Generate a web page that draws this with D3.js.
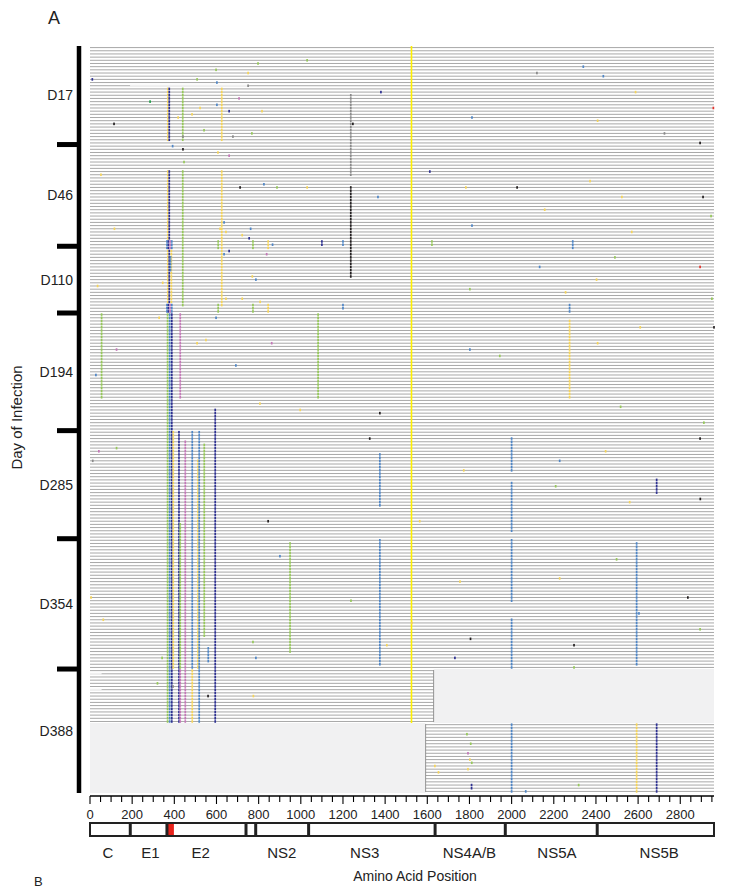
<!DOCTYPE html>
<html><head><meta charset="utf-8">
<script src="https://cdn.jsdelivr.net/npm/d3@7"></script>
<style>body{margin:0;background:#fff;} svg{display:block;font-family:Arial,"Liberation Sans",Helvetica,sans-serif;}</style>
</head><body><svg id="chart" width="736" height="892"></svg>
<script>
// ---------------- data ----------------
const groups = ["D17","D46","D110","D194","D285","D354","D388"];
const groupSizes = [31,32,21,37,34,41,39];
const tickLabels = [0,200,400,600,800,1000,1200,1400,1600,1800,2000,2200,2400,2600,2800];
const minorTickStep = 50;
const geneNames = ["C","E1","E2","p7","NS2","NS3","NS4A/B","NS5A","NS5B"];
const geneBounds = [0,191,365,740,786,1037,1637,1970,2406,2960];
const geneLabelPos = [85,287,525,null,910,1303,1800,2215,2700];
const hvr1 = [370,398];
// consensus-wide substitution present in early sequences
const fixedSite = [1525, 0, 212];
// missing data blocks: [from aa, to aa, first row, last row]
const missing = [[1630,2960,196,212],[0,1592,213,234]];
// row gaps (no sequence): [row, from aa, to aa]
const rowGaps = [[12,190,748],[197,0,55],[202,0,55]];
// runs of the same substitution in consecutive sequences: [aa, first row, last row, class]
const runs = [
 [369,13,29,"y"],[376,13,29,"n"],[440,13,29,"g"],[625,13,29,"y"],
 [1237,15,40,"a"],
 [369,39,60,"y"],[376,39,60,"n"],[440,39,81,"g"],[625,39,81,"y"],
 [1237,44,72,"k"],
 [365,61,63,"b"],[372,61,63,"n"],[380,61,63,"p"],[388,61,63,"b"],
 [608,61,63,"g"],[773,61,63,"g"],[845,61,63,"y"],
 [1100,61,62,"n"],[1200,61,62,"b"],[1622,61,62,"g"],[2290,61,63,"b"],
 [369,64,80,"y"],[376,64,80,"n"],[386,64,80,"y"],[382,66,70,"b"],
 [365,81,83,"b"],[372,81,83,"n"],[380,81,83,"p"],[388,81,83,"b"],
 [608,81,83,"g"],[773,81,83,"g"],[845,81,83,"y"],[1200,81,82,"b"],[2275,81,83,"b"],
 [55,84,110,"g"],
 [368,84,212,"g"],[378,84,212,"b"],[388,84,212,"n"],[395,121,195,"y"],
 [428,84,110,"p"],[1082,84,110,"g"],[2275,86,110,"y"],
 [422,121,212,"n"],[428,150,195,"g"],[428,196,212,"p"],[452,124,212,"p"],
 [485,121,195,"b"],[485,196,212,"y"],[512,130,195,"y"],[518,121,212,"b"],
 [542,125,185,"g"],[561,189,193,"b"],[594,114,212,"n"],
 [1375,128,144,"b"],[1375,155,194,"b"],
 [2000,123,133,"b"],[2000,137,152,"b"],[2000,155,174,"b"],[2000,180,195,"b"],[2000,213,234,"b"],
 [949,156,190,"g"],[2593,156,194,"b"],[2593,213,234,"y"],[2688,136,140,"n"],[2688,213,234,"n"]
];
// isolated substitutions: [row, aa, class]
const singles = [
 [10,11,"n"],[7,598,"g"],[10,508,"g"],[11,602,"b"],[17,285,"d"],[24,114,"k"],[20,660,"n"],[16,707,"p"],
 [31,392,"b"],[5,797,"g"],[8,750,"y"],[12,750,"a"],[19,522,"y"],[18,602,"b"],[20,816,"y"],[22,418,"y"],
 [21,484,"y"],[26,541,"g"],[27,768,"g"],[28,441,"a"],[28,678,"a"],[32,441,"k"],[33,607,"y"],[34,660,"p"],
 [36,446,"g"],[44,712,"k"],[43,825,"b"],[44,887,"g"],[40,52,"y"],[57,116,"y"],[75,36,"y"],[95,126,"p"],
 [103,28,"b"],[127,42,"p"],[126,126,"g"],[130,13,"a"],[173,5,"y"],[180,63,"y"],
 [55,636,"b"],[57,617,"y"],[58,645,"y"],[59,722,"y"],[57,762,"b"],[60,755,"n"],[62,866,"b"],[64,660,"n"],
 [65,636,"b"],[65,838,"p"],[72,770,"y"],[73,787,"b"],[74,345,"y"],[79,645,"y"],[79,722,"y"],[80,807,"y"],
 [85,328,"y"],[85,598,"b"],[93,508,"y"],[92,550,"y"],[93,862,"p"],
 [187,773,"g"],[192,342,"g"],[192,787,"b"],[200,320,"g"],[201,394,"a"],[204,560,"k"],[204,775,"y"],
 [188,1408,"y"],[192,1731,"n"],[188,2296,"k"],[195,2296,"g"],[186,1805,"k"],
 [216,1788,"g"],[219,1806,"g"],[222,1793,"p"],[224,1802,"y"],[225,1811,"g"],[226,1636,"y"],[227,1793,"y"],[228,1653,"y"],
 [232,1810,"n"],[233,1810,"n"],[234,2067,"b"],[232,2318,"g"],
 [4,1030,"g"],[6,2340,"b"],[9,2435,"b"],[19,2957,"r"],[22,1812,"b"],[30,2894,"k"],[24,1247,"k"],[14,1380,"n"],
 [8,2120,"a"],[14,2588,"y"],[23,2408,"y"],[27,2725,"a"],
 [44,1030,"y"],[47,1366,"b"],[44,1783,"y"],[44,2026,"k"],[42,2372,"y"],[47,2523,"y"],[47,2908,"k"],[53,2946,"g"],
 [51,2157,"y"],[56,1812,"b"],[39,1612,"n"],[58,2570,"y"],
 [69,2894,"r"],[79,2950,"g"],[77,2256,"y"],[73,2403,"y"],[69,2133,"b"],[76,1802,"g"],[66,2490,"g"],
 [88,2960,"k"],[88,2610,"y"],[97,1944,"g"],[93,2408,"y"],[95,1802,"b"],[115,1375,"k"],[113,2517,"g"],
 [118,2912,"g"],[114,997,"y"],[112,806,"y"],[100,692,"b"],
 [123,1327,"k"],[123,2894,"k"],[127,2446,"y"],[130,2228,"b"],[133,1773,"y"],[149,845,"k"],[149,1564,"y"],
 [143,2560,"y"],[142,2895,"k"],[138,2209,"g"],
 [160,901,"b"],[168,1755,"y"],[161,2498,"g"],[173,2836,"k"],[178,2604,"b"],[167,2228,"y"],[183,2894,"g"],
 [174,1238,"g"],[181,1527,"y"]
];
const classColors = {y:"#f5d45a", n:"#2e3192", g:"#96c85a", b:"#4f86c6", p:"#c478b8", k:"#231f20", d:"#1f9e48", a:"#8a8a8a", r:"#e4332d"};

// ---------------- chart ----------------
const svg = d3.select("#chart");
const nRows = d3.sum(groupSizes);
const x = d3.scaleLinear().domain([0, 2960]).range([90, 714]);
const y = d3.scaleLinear().domain([0, nRows]).range([46, 793]);
const pitch = y(1) - y(0);
const rowY = r => y(r + 0.5);

// row lines
const rows = d3.range(nRows).map(r => {
  const m = missing.find(mm => r >= mm[2] && r <= mm[3]);
  let a0 = 0, a1 = 2960;
  if (m) { if (m[0] === 0) a0 = m[1]; else a1 = m[0]; }
  return {r, a0, a1};
});
svg.append("g").selectAll("line").data(rows).join("line")
  .attr("x1", d => x(d.a0)).attr("x2", d => x(d.a1))
  .attr("y1", d => rowY(d.r)).attr("y2", d => rowY(d.r))
  .attr("stroke", "#a8a8a8").attr("stroke-width", 1);

// gaps
svg.append("g").selectAll("rect").data(rowGaps).join("rect")
  .attr("x", d => x(d[1])).attr("width", d => x(d[2]) - x(d[1]))
  .attr("y", d => rowY(d[0]) - 1).attr("height", 2).attr("fill", "#f0f0f0");

// missing blocks
svg.append("g").selectAll("rect").data(missing).join("rect")
  .attr("x", d => x(d[0])).attr("width", d => x(d[1]) - x(d[0]))
  .attr("y", d => y(d[2])).attr("height", d => y(d[3] + 1) - y(d[2]))
  .attr("fill", "#f1f1f2");
svg.append("g").selectAll("line").data(missing).join("line")
  .attr("x1", d => x(d[0] === 0 ? d[1] : d[0])).attr("x2", d => x(d[0] === 0 ? d[1] : d[0]))
  .attr("y1", d => y(d[2]) + 1).attr("y2", d => y(d[3] + 1) - 1)
  .attr("stroke", "#7a7a7a").attr("stroke-width", 0.8);

// fixed site line
svg.append("line")
  .attr("x1", x(fixedSite[0])).attr("x2", x(fixedSite[0]))
  .attr("y1", y(fixedSite[1])).attr("y2", y(fixedSite[2] + 1))
  .attr("stroke", "#fff000").attr("stroke-width", 1.6);

// marks
const marks = [];
runs.forEach(([a, r0, r1, c]) => { for (let r = r0; r <= r1; r++) marks.push({r, a, c}); });
singles.forEach(([r, a, c]) => marks.push({r, a, c}));
svg.append("g").selectAll("rect").data(marks).join("rect")
  .attr("x", d => x(d.a) - 0.85).attr("width", 1.7)
  .attr("y", d => y(d.r) + 0.3).attr("height", pitch - 0.6)
  .attr("fill", d => classColors[d.c]);

// group bar
const bounds = [0, ...d3.cumsum(groupSizes)];
svg.append("line").attr("x1", 79).attr("x2", 79).attr("y1", y(0)).attr("y2", y(nRows))
  .attr("stroke", "#000").attr("stroke-width", 4.5);
svg.append("g").selectAll("line").data(bounds.slice(1, -1)).join("line")
  .attr("x1", 57).attr("x2", 81).attr("y1", d => y(d)).attr("y2", d => y(d))
  .attr("stroke", "#000").attr("stroke-width", 5);
svg.append("g").selectAll("text").data(groups).join("text")
  .attr("x", 73).attr("y", (d, i) => y((bounds[i] + bounds[i + 1]) / 2))
  .attr("dy", "0.35em").attr("text-anchor", "end")
  .attr("font-size", 14).attr("fill", "#222").text(d => d);
svg.append("text").attr("transform", `translate(22,${y(nRows / 2) - 2}) rotate(-90)`)
  .attr("text-anchor", "middle").attr("font-size", 15).attr("fill", "#222").text("Day of Infection");

// x axis
const axY = 796;
svg.append("line").attr("x1", x(0)).attr("x2", x(2960)).attr("y1", axY).attr("y2", axY)
  .attr("stroke", "#000").attr("stroke-width", 1.6);
const minor = d3.range(0, 2960, minorTickStep);
svg.append("g").selectAll("line").data(minor).join("line")
  .attr("x1", d => x(d)).attr("x2", d => x(d)).attr("y1", axY)
  .attr("y2", d => axY + (d % 200 === 0 ? 8 : 6))
  .attr("stroke", "#000").attr("stroke-width", 1.1);
svg.append("g").selectAll("text").data(tickLabels).join("text")
  .attr("x", d => x(d)).attr("y", 819).attr("text-anchor", "middle")
  .attr("font-size", 13).attr("fill", "#222").text(d => d);

// genome map
const genes = geneNames.map((n, i) => ({n, a0: geneBounds[i], a1: geneBounds[i + 1], lp: geneLabelPos[i]}));
const gy0 = 823, gy1 = 836;
svg.append("rect").attr("x", x(0)).attr("y", gy0).attr("width", x(2960) - x(0)).attr("height", gy1 - gy0)
  .attr("fill", "#fff").attr("stroke", "#222").attr("stroke-width", 2);
svg.append("rect").attr("x", x(hvr1[0])).attr("y", gy0 + 1).attr("width", x(hvr1[1]) - x(hvr1[0]))
  .attr("height", gy1 - gy0 - 2).attr("fill", "#e8221b");
svg.append("g").selectAll("line").data(geneBounds.slice(1, -1)).join("line")
  .attr("x1", d => x(d)).attr("x2", d => x(d)).attr("y1", gy0).attr("y2", gy1)
  .attr("stroke", "#222").attr("stroke-width", 3);
svg.append("g").selectAll("text").data(genes.filter(g => g.lp !== null)).join("text")
  .attr("x", d => x(d.lp)).attr("y", 858).attr("text-anchor", "middle")
  .attr("font-size", 15).attr("fill", "#222").text(d => d.n);
svg.append("text").attr("x", 415).attr("y", 881).attr("text-anchor", "middle")
  .attr("font-size", 14).attr("fill", "#222").text("Amino Acid Position");

// panel letters
svg.append("text").attr("x", 34).attr("y", 886).attr("font-size", 13).attr("fill", "#222").text("B");
svg.append("text").attr("x", 48).attr("y", 24).attr("font-size", 18).attr("fill", "#222").text("A");
</script></body></html>
